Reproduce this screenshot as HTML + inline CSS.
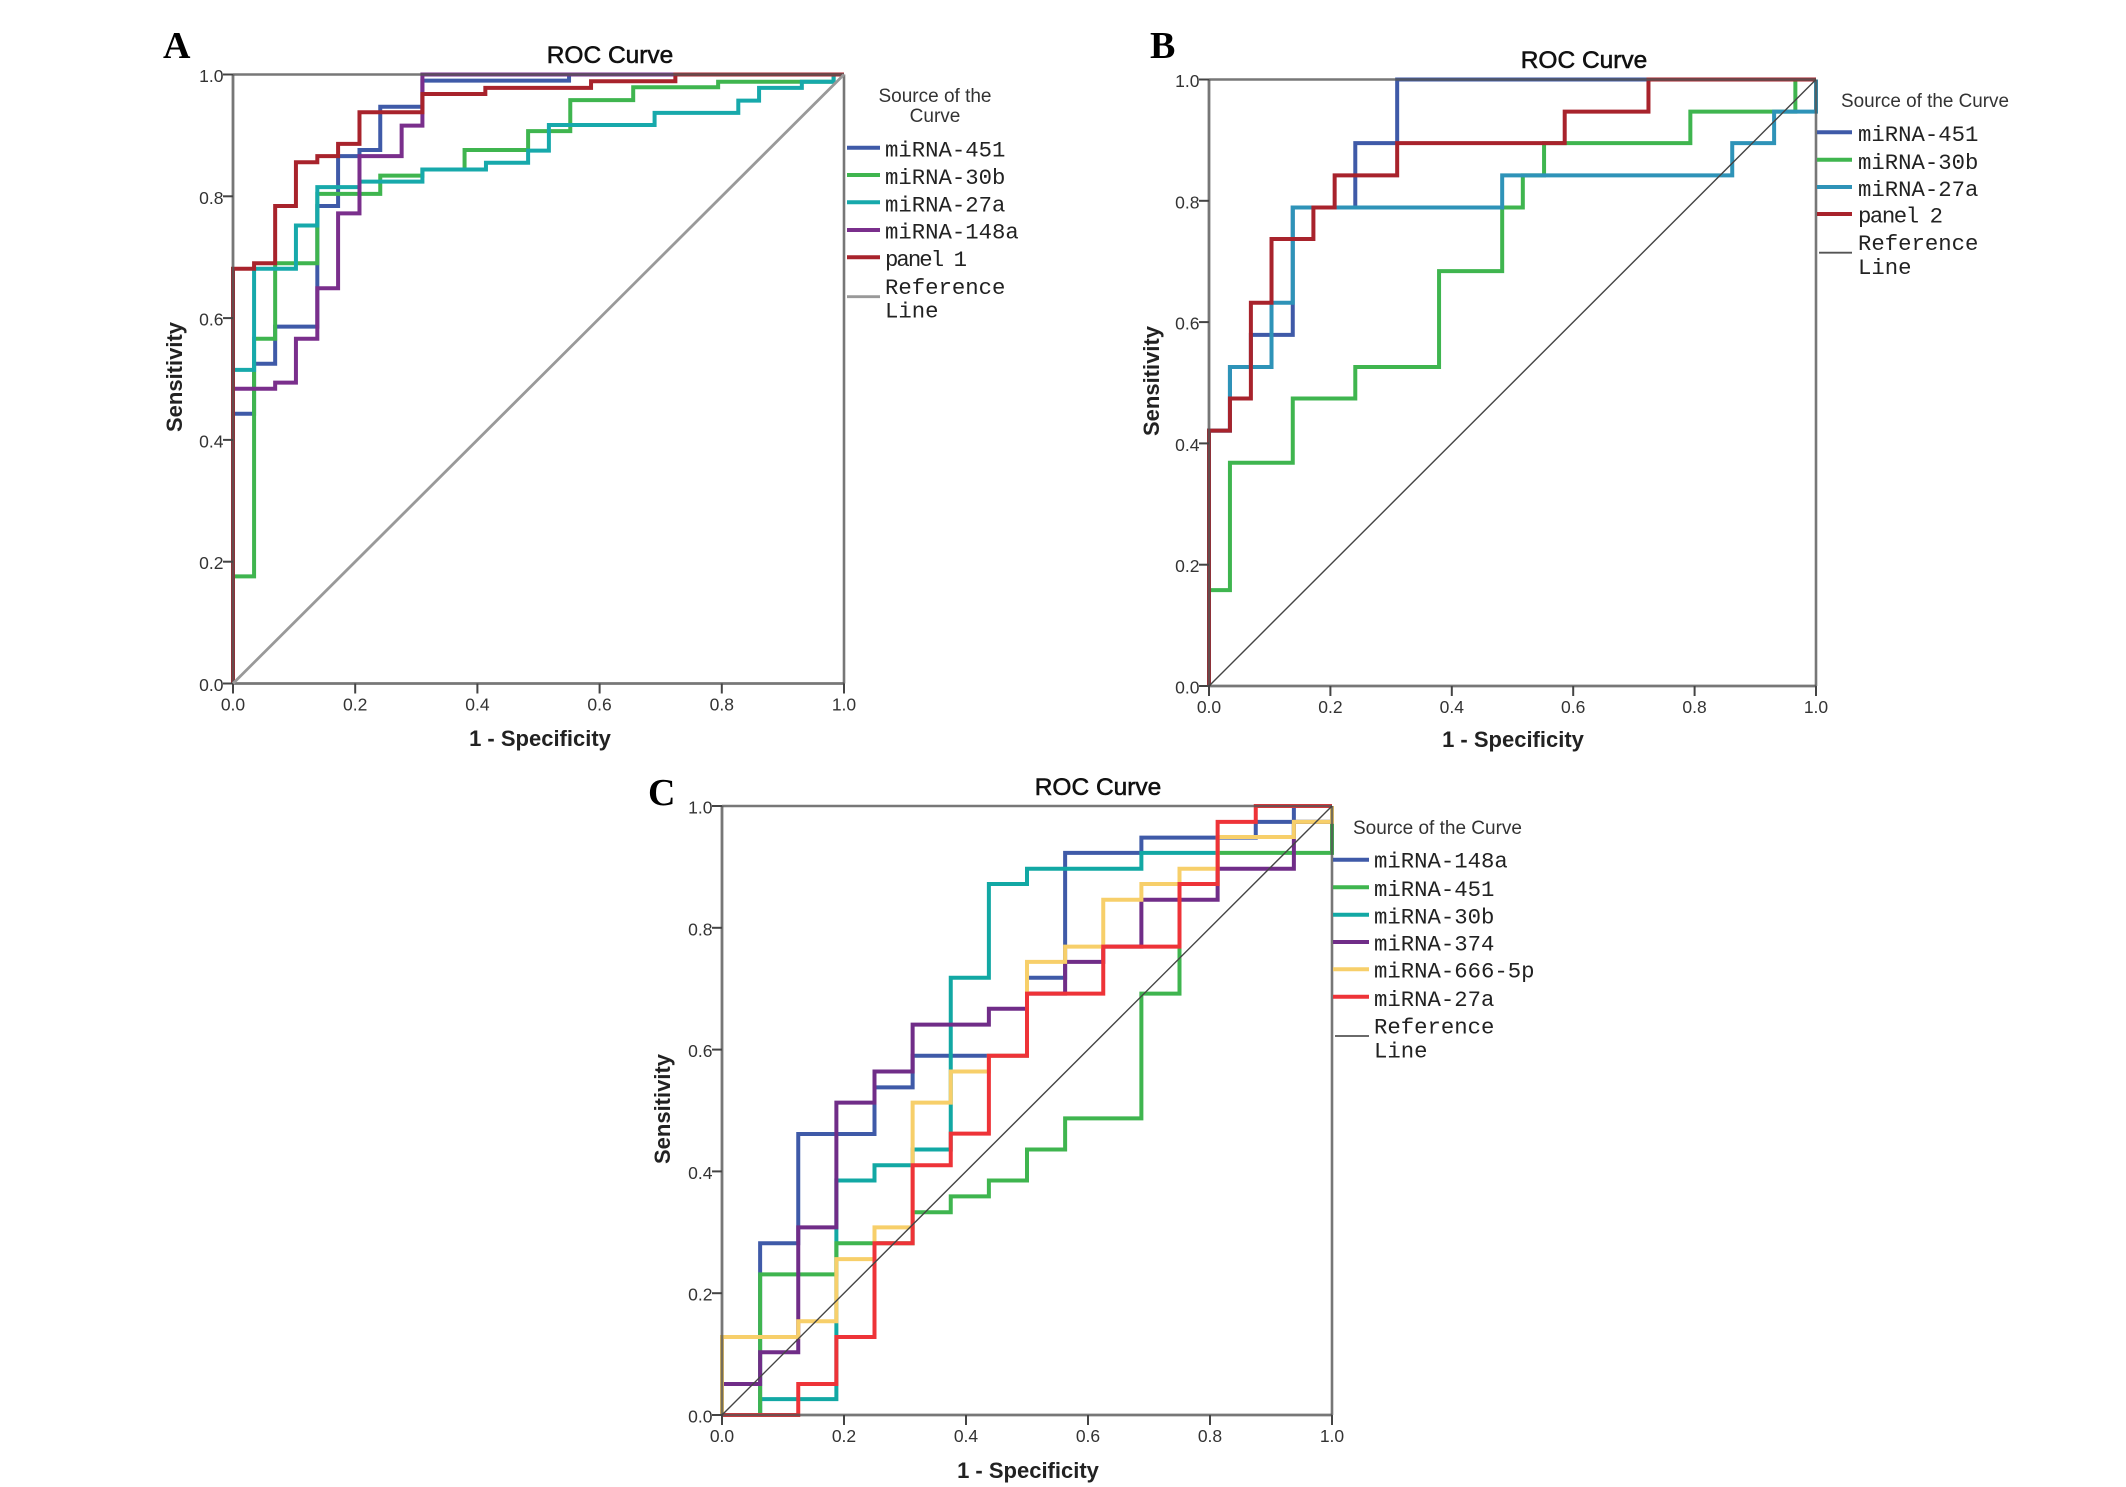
<!DOCTYPE html>
<html lang="en">
<head>
<meta charset="utf-8">
<title>ROC Curves</title>
<style>
html,body{margin:0;padding:0;background:#fff;}
svg{display:block;}
.panel-letter{font-family:"Liberation Serif",serif;font-weight:bold;font-size:38px;fill:#000;}
.chart-title{font-family:"Liberation Sans",sans-serif;font-size:24.5px;fill:#111;stroke:#111;stroke-width:.55px;text-anchor:middle;}
.axis-title{font-family:"Liberation Sans",sans-serif;font-weight:bold;font-size:22px;fill:#222;text-anchor:middle;}
.tick-label{font-family:"Liberation Sans",sans-serif;font-size:17.5px;fill:#333;}
.legend-head{font-family:"Liberation Sans",sans-serif;font-size:19px;fill:#333;}
.legend-text{font-family:"Liberation Mono",monospace;font-size:22.3px;fill:#222;}
</style>
</head>
<body>
<svg id="figure" xmlns="http://www.w3.org/2000/svg" width="2126" height="1487" viewBox="0 0 2126 1487">
  <rect x="0" y="0" width="2126" height="1487" fill="#fff"/>

  <text class="panel-letter" x="163" y="58">A</text>
  <text class="panel-letter" x="1150" y="58">B</text>
  <text class="panel-letter" x="648" y="805">C</text>

  <text class="chart-title" x="610" y="63">ROC Curve</text>
  <text class="chart-title" x="1584" y="68">ROC Curve</text>
  <text class="chart-title" x="1098" y="795">ROC Curve</text>

  <text class="axis-title" x="540" y="746">1 - Specificity</text>
  <text class="axis-title" x="1513" y="747">1 - Specificity</text>
  <text class="axis-title" x="1028" y="1478">1 - Specificity</text>

  <text class="axis-title" transform="translate(182 377) rotate(-90)">Sensitivity</text>
  <text class="axis-title" transform="translate(1159 381) rotate(-90)">Sensitivity</text>
  <text class="axis-title" transform="translate(670 1109) rotate(-90)">Sensitivity</text>

  <g id="panel-a"></g>
  <g id="panel-b"></g>
  <g id="panel-c"></g>

  <g>
    <text class="legend-head" x="935" y="102" text-anchor="middle">Source of the</text>
    <text class="legend-head" x="935" y="122" text-anchor="middle">Curve</text>
    <line x1="847" x2="880" y1="147.7" y2="147.7" stroke="#3f5aa8" stroke-width="4"/>
    <text class="legend-text" x="885" y="156.5">miRNA-451</text>
    <line x1="847" x2="880" y1="175" y2="175" stroke="#3fb54f" stroke-width="4"/>
    <text class="legend-text" x="885" y="184.2">miRNA-30b</text>
    <line x1="847" x2="880" y1="202.3" y2="202.3" stroke="#17a9ab" stroke-width="4"/>
    <text class="legend-text" x="885" y="211.5">miRNA-27a</text>
    <line x1="847" x2="880" y1="230" y2="230" stroke="#7a2f8c" stroke-width="4"/>
    <text class="legend-text" x="885" y="238.5">miRNA-148a</text>
    <line x1="847" x2="880" y1="257.3" y2="257.3" stroke="#a8232c" stroke-width="4"/>
    <text class="legend-text" x="885" y="266" textLength="82" lengthAdjust="spacing">panel 1</text>
    <line x1="847" x2="880" y1="296.7" y2="296.7" stroke="#999" stroke-width="2.8"/>
    <text class="legend-text" x="885" y="294">Reference</text>
    <text class="legend-text" x="885" y="317.5">Line</text>
  </g>

  <g>
    <text class="legend-head" x="1841" y="107" textLength="168" lengthAdjust="spacingAndGlyphs">Source of the Curve</text>
    <line x1="1817" x2="1852" y1="132.3" y2="132.3" stroke="#3f5aa8" stroke-width="4"/>
    <text class="legend-text" x="1858" y="141">miRNA-451</text>
    <line x1="1817" x2="1852" y1="159.7" y2="159.7" stroke="#3fb54f" stroke-width="4"/>
    <text class="legend-text" x="1858" y="169">miRNA-30b</text>
    <line x1="1817" x2="1852" y1="187" y2="187" stroke="#2e93b8" stroke-width="4"/>
    <text class="legend-text" x="1858" y="196">miRNA-27a</text>
    <line x1="1817" x2="1852" y1="214" y2="214" stroke="#a8232c" stroke-width="4"/>
    <text class="legend-text" x="1858" y="222.5" textLength="85" lengthAdjust="spacing">panel 2</text>
    <line x1="1819" x2="1852" y1="252.7" y2="252.7" stroke="#555" stroke-width="1.8"/>
    <text class="legend-text" x="1858" y="250">Reference</text>
    <text class="legend-text" x="1858" y="274">Line</text>
  </g>

  <g>
    <text class="legend-head" x="1353" y="834" textLength="169" lengthAdjust="spacingAndGlyphs">Source of the Curve</text>
    <line x1="1333" x2="1369" y1="859.7" y2="859.7" stroke="#3f5aa8" stroke-width="4"/>
    <text class="legend-text" x="1374" y="867.5">miRNA-148a</text>
    <line x1="1333" x2="1369" y1="887.3" y2="887.3" stroke="#3fb54f" stroke-width="4"/>
    <text class="legend-text" x="1374" y="896">miRNA-451</text>
    <line x1="1333" x2="1369" y1="914.7" y2="914.7" stroke="#12a8a4" stroke-width="4"/>
    <text class="legend-text" x="1374" y="923.3">miRNA-30b</text>
    <line x1="1333" x2="1369" y1="942" y2="942" stroke="#702d88" stroke-width="4"/>
    <text class="legend-text" x="1374" y="950.7">miRNA-374</text>
    <line x1="1333" x2="1369" y1="969.3" y2="969.3" stroke="#f7cf6a" stroke-width="4"/>
    <text class="legend-text" x="1374" y="977.5">miRNA-666-5p</text>
    <line x1="1333" x2="1369" y1="996.7" y2="996.7" stroke="#ee3338" stroke-width="4"/>
    <text class="legend-text" x="1374" y="1006">miRNA-27a</text>
    <line x1="1335" x2="1369" y1="1036" y2="1036" stroke="#555" stroke-width="1.8"/>
    <text class="legend-text" x="1374" y="1033.3">Reference</text>
    <text class="legend-text" x="1374" y="1057.3">Line</text>
  </g>
</svg>

<script>
// Axis tick values shared by all panels
const tickValues = [0, 0.2, 0.4, 0.6, 0.8, 1];
const tickLabels = ["0.0", "0.2", "0.4", "0.6", "0.8", "1.0"];

// Panel A: step breakpoints (1 - specificity) and sensitivity after each rise
const aMir451X = [0, 0.0345, 0.069, 0.138, 0.172, 0.207, 0.241, 0.31, 0.55];
const aMir451Y = [0.443, 0.525, 0.586, 0.784, 0.866, 0.876, 0.947, 0.99, 1];
const aMir30bX = [0, 0.0345, 0.069, 0.138, 0.241, 0.31, 0.379, 0.483, 0.552, 0.655, 0.794, 0.983];
const aMir30bY = [0.176, 0.566, 0.69, 0.804, 0.834, 0.844, 0.876, 0.907, 0.958, 0.979, 0.988, 1];
const aMir27aX = [0, 0.0345, 0.103, 0.138, 0.207, 0.31, 0.414, 0.483, 0.517, 0.69, 0.827, 0.861, 0.931, 0.983];
const aMir27aY = [0.515, 0.681, 0.752, 0.815, 0.824, 0.844, 0.855, 0.875, 0.917, 0.937, 0.957, 0.978, 0.988, 1];
const aMir148aX = [0, 0.069, 0.103, 0.138, 0.172, 0.207, 0.276, 0.31];
const aMir148aY = [0.484, 0.494, 0.566, 0.649, 0.772, 0.866, 0.916, 1];
const aPanel1X = [0, 0.0345, 0.069, 0.103, 0.138, 0.172, 0.207, 0.31, 0.413, 0.586, 0.724];
const aPanel1Y = [0.681, 0.69, 0.784, 0.856, 0.866, 0.886, 0.938, 0.968, 0.978, 0.989, 1];

// Panel B
const bMir451X = [0, 0.0345, 0.069, 0.138, 0.241, 0.31];
const bMir451Y = [0.421, 0.526, 0.579, 0.789, 0.895, 1];
const bMir30bX = [0, 0.0345, 0.138, 0.241, 0.379, 0.483, 0.517, 0.552, 0.793, 0.966];
const bMir30bY = [0.158, 0.368, 0.474, 0.526, 0.684, 0.789, 0.842, 0.895, 0.947, 1];
const bMir27aX = [0, 0.0345, 0.103, 0.138, 0.483, 0.862, 0.931, 1];
const bMir27aY = [0.421, 0.526, 0.632, 0.789, 0.842, 0.895, 0.947, 1];
const bPanel2X = [0, 0.0345, 0.069, 0.103, 0.172, 0.207, 0.31, 0.586, 0.724];
const bPanel2Y = [0.421, 0.474, 0.632, 0.737, 0.789, 0.842, 0.895, 0.947, 1];

// Panel C
const cMir148aX = [0.0625, 0.125, 0.25, 0.3125, 0.5, 0.5625, 0.6875, 0.875, 0.9375];
const cMir148aY = [0.282, 0.4615, 0.538, 0.59, 0.718, 0.923, 0.948, 0.974, 1];
const cMir30bX = [0.0625, 0.1875, 0.25, 0.3125, 0.375, 0.4375, 0.5, 0.6875, 0.8125, 0.9375, 1];
const cMir30bY = [0.026, 0.385, 0.41, 0.436, 0.718, 0.872, 0.897, 0.923, 0.949, 0.974, 1];
const cMir451X = [0.0625, 0.1875, 0.3125, 0.375, 0.4375, 0.5, 0.5625, 0.6875, 0.75, 0.8125, 1];
const cMir451Y = [0.231, 0.282, 0.333, 0.359, 0.385, 0.436, 0.487, 0.692, 0.872, 0.923, 1];
const cMir374X = [0, 0.0625, 0.125, 0.1875, 0.25, 0.3125, 0.4375, 0.5, 0.5625, 0.625, 0.6875, 0.8125, 0.9375, 1];
const cMir374Y = [0.051, 0.103, 0.308, 0.513, 0.564, 0.641, 0.667, 0.692, 0.744, 0.769, 0.846, 0.897, 0.974, 1];
const cMir6665pX = [0, 0.125, 0.1875, 0.25, 0.3125, 0.375, 0.4375, 0.5, 0.5625, 0.625, 0.6875, 0.75, 0.8125, 0.9375, 1];
const cMir6665pY = [0.128, 0.154, 0.256, 0.308, 0.513, 0.564, 0.59, 0.744, 0.769, 0.846, 0.872, 0.897, 0.949, 0.974, 1];
const cMir27aX = [0.125, 0.1875, 0.25, 0.3125, 0.375, 0.4375, 0.5, 0.625, 0.75, 0.8125, 0.875];
const cMir27aY = [0.051, 0.128, 0.282, 0.41, 0.462, 0.59, 0.692, 0.769, 0.872, 0.974, 1];

const NS = "http://www.w3.org/2000/svg";

function makeEl(tag, parent) {
  const el = document.createElementNS(NS, tag);
  parent.appendChild(el);
  return el;
}

function drawPanel(cfg) {
  const root = document.getElementById(cfg.id);
  const xScale = v => cfg.left + v * (cfg.right - cfg.left);
  const yScale = v => cfg.bottom - v * (cfg.bottom - cfg.top);

  // series (under the axis hairline)
  cfg.series.forEach(s => {
    let d = "M" + xScale(0) + " " + yScale(0);
    s.x.forEach((xv, i) => {
      d += "H" + xScale(xv) + "V" + yScale(s.y[i]);
    });
    d += "H" + xScale(1);
    const path = makeEl("path", root);
    
    
    path.setAttribute("d", d);
    path.setAttribute("fill", "none");
    path.setAttribute("stroke", s.color);
    path.setAttribute("stroke-width", "4");
    path.setAttribute("stroke-linejoin", "miter");
  });

  // frame
  const frame = [
    ["axis-left", 0, 0, 0, 1, cfg.axisColor, 2.8],
    ["axis-bottom", 0, 0, 1, 0, cfg.axisColor, 2.8],
    ["frame-top", 0, 1, 1, 1, cfg.axisColor, 2.6],
    ["frame-right", 1, 0, 1, 1, cfg.axisColor, 2.6]
  ];
  frame.forEach(f => {
    const line = makeEl("line", root);
    
    
    line.setAttribute("x1", xScale(f[1]));
    line.setAttribute("y1", yScale(f[2]));
    line.setAttribute("x2", xScale(f[3]));
    line.setAttribute("y2", yScale(f[4]));
    line.setAttribute("stroke", f[5]);
    line.setAttribute("stroke-width", f[6]);
    line.setAttribute("stroke-opacity", "0.8");
  });

  // ticks and labels
  tickValues.forEach((v, i) => {
    const xTick = makeEl("line", root);
    
    
    xTick.setAttribute("x1", xScale(v));
    xTick.setAttribute("x2", xScale(v));
    xTick.setAttribute("y1", yScale(0));
    xTick.setAttribute("y2", yScale(0) + 10);
    xTick.setAttribute("stroke", "#444");
    xTick.setAttribute("stroke-width", "2");

    const yTick = makeEl("line", root);
    
    
    yTick.setAttribute("x1", xScale(0) - 10);
    yTick.setAttribute("x2", xScale(0));
    yTick.setAttribute("y1", yScale(v));
    yTick.setAttribute("y2", yScale(v));
    yTick.setAttribute("stroke", "#444");
    yTick.setAttribute("stroke-width", "2");

    const xLabel = makeEl("text", root);
    
    
    xLabel.setAttribute("class", "tick-label");
    xLabel.setAttribute("x", xScale(v));
    xLabel.setAttribute("y", yScale(0) + 27);
    xLabel.setAttribute("text-anchor", "middle");
    xLabel.textContent = tickLabels[i];

    const yLabel = makeEl("text", root);
    
    
    yLabel.setAttribute("class", "tick-label");
    yLabel.setAttribute("x", xScale(0) - 9.5);
    yLabel.setAttribute("y", yScale(v) + 7.5);
    yLabel.setAttribute("text-anchor", "end");
    yLabel.textContent = tickLabels[i];
  });

  // reference diagonal
  const diag = makeEl("line", root);
  
  
  diag.setAttribute("x1", xScale(0));
  diag.setAttribute("y1", yScale(0));
  diag.setAttribute("x2", xScale(1));
  diag.setAttribute("y2", yScale(1));
  diag.setAttribute("stroke", cfg.refColor);
  diag.setAttribute("stroke-width", cfg.refWidth);
}

drawPanel({
  id: "panel-a", left: 233, right: 844, top: 74.5, bottom: 683.5,
  axisColor: "#555", refColor: "#999", refWidth: 2.8,
  series: [
    { name: "mirna-451", color: "#3f5aa8", x: aMir451X, y: aMir451Y },
    { name: "mirna-30b", color: "#3fb54f", x: aMir30bX, y: aMir30bY },
    { name: "mirna-27a", color: "#17a9ab", x: aMir27aX, y: aMir27aY },
    { name: "mirna-148a", color: "#7a2f8c", x: aMir148aX, y: aMir148aY },
    { name: "panel-1", color: "#a8232c", x: aPanel1X, y: aPanel1Y }
  ]
});

drawPanel({
  id: "panel-b", left: 1209, right: 1816, top: 79.5, bottom: 686,
  axisColor: "#555", refColor: "#444", refWidth: 1.4,
  series: [
    { name: "mirna-451", color: "#3f5aa8", x: bMir451X, y: bMir451Y },
    { name: "mirna-30b", color: "#3fb54f", x: bMir30bX, y: bMir30bY },
    { name: "mirna-27a", color: "#2e93b8", x: bMir27aX, y: bMir27aY },
    { name: "panel-2", color: "#a8232c", x: bPanel2X, y: bPanel2Y }
  ]
});

drawPanel({
  id: "panel-c", left: 722, right: 1332, top: 806, bottom: 1415,
  axisColor: "#555", refColor: "#444", refWidth: 1.4,
  series: [
    { name: "mirna-148a", color: "#3f5aa8", x: cMir148aX, y: cMir148aY },
    { name: "mirna-30b", color: "#12a8a4", x: cMir30bX, y: cMir30bY },
    { name: "mirna-451", color: "#3fb54f", x: cMir451X, y: cMir451Y },
    { name: "mirna-374", color: "#702d88", x: cMir374X, y: cMir374Y },
    { name: "mirna-666-5p", color: "#f7cf6a", x: cMir6665pX, y: cMir6665pY },
    { name: "mirna-27a", color: "#ee3338", x: cMir27aX, y: cMir27aY }
  ]
});
</script>
</body>
</html>
